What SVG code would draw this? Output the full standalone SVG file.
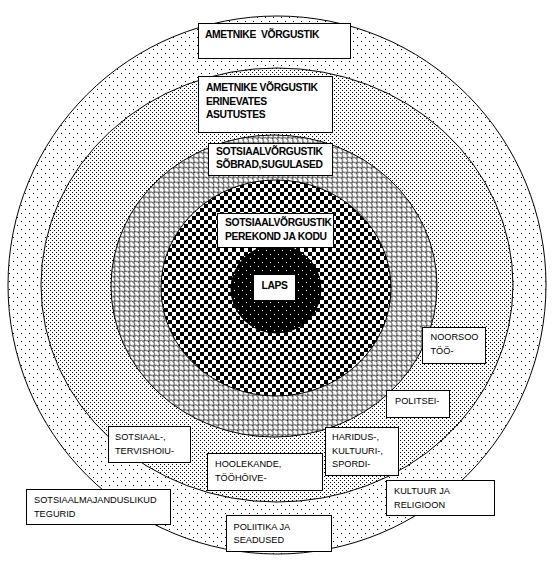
<svg xmlns="http://www.w3.org/2000/svg" width="555" height="565" viewBox="0 0 555 565">
<defs>
<pattern id="pSparse" width="8" height="8" patternUnits="userSpaceOnUse">
<rect width="8" height="8" fill="#fff"/>
<rect x="1" y="1" width="1" height="1" fill="#000"/>
<rect x="5" y="5" width="1" height="1" fill="#000"/>
</pattern>
<pattern id="pDense" width="4" height="4" patternUnits="userSpaceOnUse">
<rect width="4" height="4" fill="#fff"/>
<rect x="0" y="0" width="1" height="1" fill="#000"/>
<rect x="2" y="2" width="1" height="1" fill="#000"/>
</pattern>
<pattern id="pScale" width="7" height="7" patternUnits="userSpaceOnUse" patternTransform="rotate(45)">
<rect width="7" height="7" fill="#fff"/>
<path d="M0,7 A3.5,3.5 0 0 1 7,7 M-3.5,3.5 A3.5,3.5 0 0 1 3.5,3.5 M3.5,3.5 A3.5,3.5 0 0 1 10.5,3.5" fill="none" stroke="#000" stroke-width="0.75"/>
</pattern>
<pattern id="pCheck" width="8" height="8" patternUnits="userSpaceOnUse">
<rect width="8" height="8" fill="#fff"/>
<rect x="0" y="0" width="4" height="4" fill="#000"/>
<rect x="4" y="4" width="4" height="4" fill="#000"/>
</pattern>
<pattern id="pBlack" width="8" height="8" patternUnits="userSpaceOnUse">
<rect width="8" height="8" fill="#000"/>
<rect x="2" y="2" width="1" height="1" fill="#fff"/>
<rect x="6" y="6" width="1" height="1" fill="#fff"/>
</pattern>
</defs>
<style>
.ring{stroke:#000;stroke-width:1}
.box{fill:#fff;stroke:#000;stroke-width:1}
.b{font-family:"Liberation Sans",Arial,sans-serif;font-weight:bold;font-size:10.3px;letter-spacing:-0.35px;fill:#000}
.r{font-family:"Liberation Sans",Arial,sans-serif;font-size:9.2px;fill:#000}
</style>
<rect width="555" height="565" fill="#fff"/>
<g id="rings">
<ellipse id="ring1" class="ring" cx="277" cy="285" rx="269" ry="269" fill="url(#pSparse)"/>
<ellipse id="ring2" class="ring" cx="277" cy="285" rx="236" ry="217" fill="url(#pDense)"/>
<ellipse id="ring3" class="ring" cx="274" cy="286" rx="163" ry="151" fill="url(#pScale)"/>
<ellipse id="ring4" class="ring" cx="276" cy="288" rx="115" ry="108" fill="url(#pCheck)"/>
<ellipse id="ring5" class="ring" cx="276" cy="289" rx="45" ry="44" fill="url(#pBlack)"/>
</g>
<g id="connectors"></g>
<g id="n1"><rect class="box" x="198.5" y="23.5" width="152" height="35"/><text class="b" x="205" y="38" xml:space="preserve">AMETNIKE  VÕRGUSTIK</text></g>
<g id="n2"><rect class="box" x="198.5" y="76.5" width="134" height="56"/><text class="b" x="206" y="91">AMETNIKE VÕRGUSTIK</text><text class="b" x="206" y="104.5">ERINEVATES</text><text class="b" x="206" y="118">ASUTUSTES</text></g>
<g id="n3"><rect class="box" x="208.5" y="143.5" width="124" height="32"/><text class="b" x="216" y="155">SOTSIAALVÕRGUSTIK</text><text class="b" x="216" y="168">SÕBRAD,SUGULASED</text></g>
<g id="n4"><rect class="box" x="217.5" y="213.5" width="116" height="34"/><text class="b" x="225" y="226">SOTSIAALVÕRGUSTIK</text><text class="b" x="225" y="240">PEREKOND JA KODU</text></g>
<g id="n5"><rect class="box" x="253.5" y="274.5" width="42" height="26"/><text class="b" x="274.5" y="288.5" text-anchor="middle">LAPS</text></g>
<g id="n6"><rect class="box" x="422.5" y="327.5" width="63" height="36"/><text class="r" x="430.5" y="340">NOORSOO</text><text class="r" x="430.5" y="354">TÖÖ-</text></g>
<g id="n7"><rect class="box" x="386.5" y="390.5" width="63" height="27"/><text class="r" x="395" y="404">POLITSEI-</text></g>
<g id="n8"><rect class="box" x="325.5" y="427.5" width="73" height="48"/><text class="r" x="332" y="440">HARIDUS-,</text><text class="r" x="332" y="453.5">KULTUURI-,</text><text class="r" x="332" y="467">SPORDI-</text></g>
<g id="n9"><rect class="box" x="108.5" y="426.5" width="82" height="36"/><text class="r" x="115" y="439.5">SOTSIAAL-,</text><text class="r" x="115" y="453.5">TERVISHOIU-</text></g>
<g id="n10"><rect class="box" x="207.5" y="453.5" width="115" height="37"/><text class="r" x="215" y="467">HOOLEKANDE,</text><text class="r" x="215" y="480.5">TÖÖHÕIVE-</text></g>
<g id="n11"><rect class="box" x="26.5" y="489.5" width="144" height="35"/><text class="r" x="34" y="502.5">SOTSIAALMAJANDUSLIKUD</text><text class="r" x="34" y="517">TEGURID</text></g>
<g id="n12"><rect class="box" x="226.5" y="515.5" width="105" height="36"/><text class="r" x="233.5" y="529.5">POLIITIKA JA</text><text class="r" x="233.5" y="543">SEADUSED</text></g>
<g id="n13"><rect class="box" x="386.5" y="480.5" width="108" height="35"/><text class="r" x="394" y="494">KULTUUR JA</text><text class="r" x="394" y="508">RELIGIOON</text></g>
</svg>
